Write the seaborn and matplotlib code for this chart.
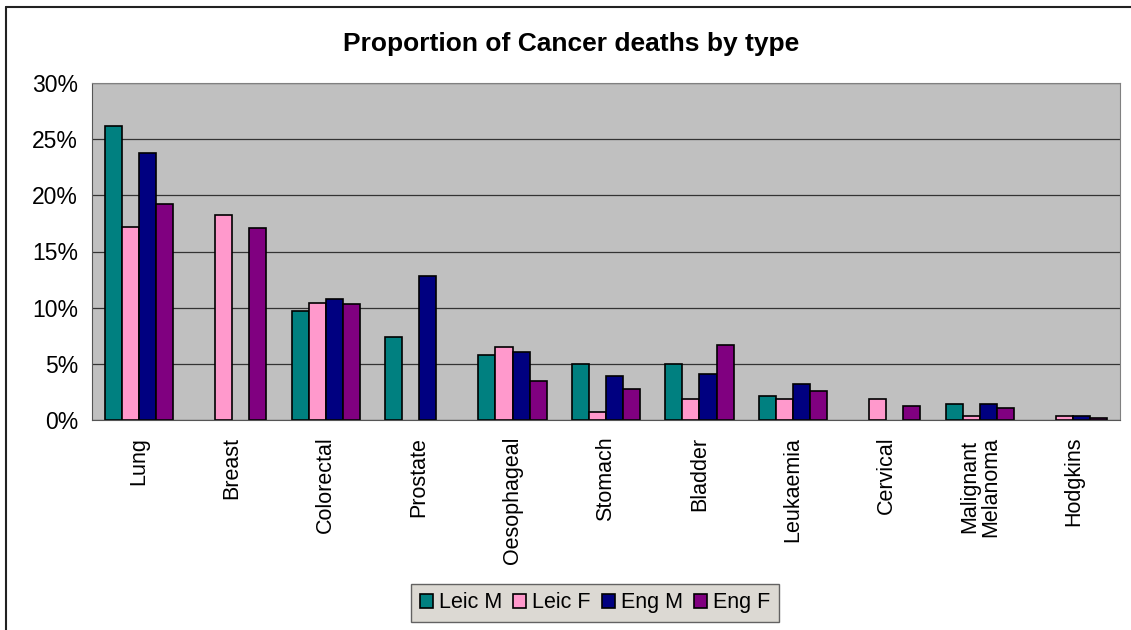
import matplotlib
matplotlib.use('Agg')
import matplotlib.pyplot as plt
from matplotlib.lines import Line2D
from matplotlib.ticker import PercentFormatter, FixedLocator
import seaborn as sns
import pandas as pd
import numpy as np

# Chart data (percent of cancer deaths)
cancer_types = ['Lung', 'Breast', 'Colorectal', 'Prostate', 'Oesophageal', 'Stomach',
                'Bladder', 'Leukaemia', 'Cervical', 'Malignant\nMelanoma', 'Hodgkins']
leic_m = [26.2, np.nan, 9.7, 7.4, 5.75, 5.0, 5.0, 2.15, np.nan, 1.4, np.nan]
leic_f = [17.2, 18.25, 10.45, np.nan, 6.5, 0.75, 1.85, 1.85, 1.85, 0.35, 0.4]
eng_m = [23.8, np.nan, 10.75, 12.85, 6.05, 3.95, 4.1, 3.2, np.nan, 1.4, 0.35]
eng_f = [19.2, 17.1, 10.3, np.nan, 3.5, 2.75, 6.7, 2.6, 1.25, 1.1, 0.2]
series_names = ['Leic M', 'Leic F', 'Eng M', 'Eng F']
series_colors = ['#008080', '#FF99CC', '#000080', '#800080']

# Long format for seaborn
frames = []
for name, vals in zip(series_names, [leic_m, leic_f, eng_m, eng_f]):
    frames.append(pd.DataFrame({'type': cancer_types, 'series': name, 'pct': vals}))
df = pd.concat(frames, ignore_index=True)

sns.set_style('white')
plt.rcParams['font.family'] = ['Liberation Sans', 'DejaVu Sans']
plt.rcParams['text.color'] = 'black'
plt.rcParams['xtick.color'] = 'black'
plt.rcParams['ytick.color'] = 'black'

fig = plt.figure(figsize=(11.31, 6.3), dpi=100)
ax = fig.add_axes([92 / 1131, 1 - 420 / 630, (1120 - 92) / 1131, (420 - 83) / 630])

sns.barplot(data=df, x='type', y='pct', hue='series', order=cancer_types,
            hue_order=series_names, palette=series_colors, width=0.73,
            edgecolor='black', linewidth=1.2, saturation=1, ax=ax, legend=True)

ax.set_facecolor('#C0C0C0')
ax.set_ylim(0, 30)
ax.set_xlim(-0.5, len(cancer_types) - 0.5)
ax.yaxis.set_major_locator(FixedLocator([0, 5, 10, 15, 20, 25, 30]))
ax.yaxis.set_major_formatter(PercentFormatter(decimals=0))
ax.grid(axis='y', color='#333333', linewidth=0.9)
ax.set_axisbelow(True)
for side in ['top', 'right']:
    ax.spines[side].set_color('#808080')
for side in ['left', 'bottom']:
    ax.spines[side].set_color('#555555')

# Excel-style ticks between categories
ax.set_xticks(np.arange(-0.5, len(cancer_types) + 0.5, 1), minor=True)
ax.tick_params(axis='x', which='minor', length=6, direction='out', color='#555555')
ax.tick_params(axis='x', which='major', length=0, pad=12)
ax.tick_params(axis='y', length=5, direction='out', color='#555555', labelsize=16.5, pad=5)
ax.set_xticks(range(len(cancer_types)))
ax.set_xticklabels(cancer_types, rotation=90, ha='center', va='top', fontsize=15.5,
                   linespacing=1.0)
ax.set_xlabel('')
ax.set_ylabel('')

fig.text(571 / 1131, 1 - 44 / 630, 'Proportion of Cancer deaths by type', fontsize=19,
         fontweight='bold', ha='center', va='center')

leg = ax.legend(loc='lower center', bbox_to_anchor=(595 / 1131, 8 / 630),
                bbox_transform=fig.transFigure, ncol=4, frameon=True, fontsize=15.5,
                handlelength=0.6, handleheight=0.6, handletextpad=0.3,
                columnspacing=0.5, borderpad=0.4, borderaxespad=0, fancybox=False)
leg.get_frame().set_facecolor('#D4D0C8')
leg.get_frame().set_edgecolor('#404040')
leg.get_frame().set_linewidth(1.0)

# Chart-area border (top and left edges visible in the reference)
fig.add_artist(Line2D([6 / 1131, 1], [1 - 7 / 630, 1 - 7 / 630], color='#222222',
                      linewidth=1.5, transform=fig.transFigure))
fig.add_artist(Line2D([6 / 1131, 6 / 1131], [0, 1 - 7 / 630], color='#222222',
                      linewidth=1.5, transform=fig.transFigure))

fig.savefig('out.png', dpi=100, facecolor='white')
